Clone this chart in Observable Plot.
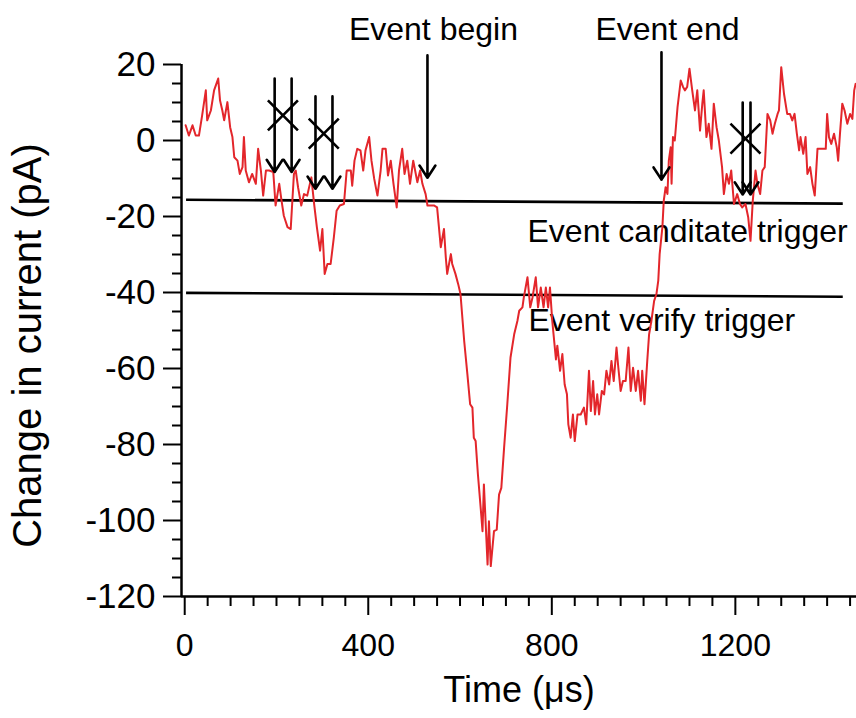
<!DOCTYPE html>
<html>
<head>
<meta charset="utf-8">
<script src="https://cdn.jsdelivr.net/npm/d3@7"></script>
<script src="https://cdn.jsdelivr.net/npm/@observablehq/plot@0.6"></script>
<style>
  html, body { margin: 0; padding: 0; background: #fff; }
  #chart svg { display: block; }
</style>
</head>
<body>
<div id="chart"></div>
<script>
// ---- Data ----
const timeUs = [
  2, 9, 17, 24, 31, 38, 46, 49, 57, 64, 73, 77, 82, 86, 93, 99, 104, 108, 115, 120,
  126, 129, 133, 140, 147, 155, 160, 166, 171, 177, 184, 193, 198, 206, 211, 216, 224, 231, 238, 242,
  247, 254, 260, 267, 276, 282, 288, 295, 300, 305, 311, 318, 325, 331, 338, 347, 353, 362, 365, 370,
  376, 383, 389, 394, 402, 407, 413, 420, 427, 431, 438, 443, 449, 455, 462, 467, 474, 479, 485, 491,
  498, 507, 513, 518, 525, 529, 543, 550, 554, 558, 565, 569, 572, 580, 583, 590, 596, 601,
  609, 616, 622, 627, 630, 634, 639, 645, 649, 652, 656, 660, 663, 667, 674, 680, 685, 690, 696, 703,
  710, 718, 725, 729, 736, 739, 747, 753, 758, 765, 770, 776, 782, 787, 792, 796, 801, 809, 812, 818,
  823, 828, 833,
  836, 841, 846, 850, 856, 863, 870, 875, 881, 885, 890, 894, 899, 903, 909, 914, 919, 925, 930, 935,
  941, 945, 950, 955, 961, 967, 972, 977, 983, 988, 994, 997, 1002, 1008, 1012, 1017, 1023, 1028, 1032, 1035,
  1041, 1044, 1048, 1052, 1055, 1059, 1061, 1064, 1068, 1074, 1081, 1086, 1090, 1095, 1100, 1106, 1112,
  1117, 1123, 1128, 1131, 1137, 1142, 1148, 1153, 1159, 1164, 1171, 1175, 1181, 1186, 1191, 1197, 1204, 1210, 1215, 1222,
  1228, 1233, 1238, 1244, 1248, 1254, 1259, 1264, 1270, 1276, 1281, 1286, 1292, 1295, 1300, 1306, 1313, 1319, 1324, 1329,
  1334, 1339, 1342, 1348, 1353, 1357, 1363, 1368, 1373, 1379, 1387, 1397, 1400, 1404, 1409, 1415, 1421, 1424, 1428, 1433,
  1438, 1444, 1450, 1455, 1459, 1462
];
const currentPA = [
  4.0, 1.3, 4.0, 1.3, 1.3, 6.6, 13.2, 5.3, 7.9, 13.2, 16.3, 10.5, 7.9, 5.3, 10.1, 3.5, 0.9, -4.4, -5.3, -8.8,
  -7.0, 0.9, -7.9, -11.0, -8.8, -11.4, -2.2, -7.9, -14.5, -7.9, -7.9, -8.3, -17.1, -11.4, -15.8, -19.8, -22.8, -23.3, -8.8, -7.9,
  -12.3, -17.1, -14.1, -14.5, -9.7, -16.7, -22.8, -29.0, -23.3, -35.1, -32.5, -32.5, -25.5, -18.5, -17.1, -16.7, -7.9, -7.9, -11.9, -5.3,
  -2.2, -2.6, -7.9, -2.6, 0.9, -5.3, -10.1, -14.5, -7.9, -2.2, -2.2, -9.2, -5.3, -11.4, -17.6, -7.9, -2.2, -8.8, -5.3, -11.4,
  -5.3, -11.0, -7.9, -11.4, -14.1, -17.1, -17.1, -17.6, -22.8, -28.1, -23.3, -30.8, -35.1, -29.9, -32.5, -35.1, -37.8, -40.4,
  -52.7, -61.5, -69.4, -70.3, -78.2, -79.1, -87.9, -96.7, -102.8, -90.5, -101.1, -111.6, -100.2, -112.0, -102.8, -102.4, -93.2, -91.4, -80.9, -69.4,
  -57.1, -51.0, -47.5, -44.8, -43.9, -41.3, -36.0, -43.9, -41.3, -36.0, -43.9, -38.7, -43.9, -38.7, -43.9, -38.7, -47.5, -57.6, -54.0, -60.6,
  -56.2, -64.2, -66.8,
  -74.7, -78.2, -72.1, -79.1, -72.1, -72.1, -70.3, -74.7, -60.6, -71.2, -63.3, -72.1, -66.8, -72.1, -65.9, -66.8, -60.6, -64.2, -58.0, -63.3,
  -54.5, -59.8, -65.9, -63.3, -63.3, -54.5, -65.9, -59.8, -65.9, -60.6, -68.5, -60.6, -69.4, -58.0, -51.0, -47.5, -42.2, -40.4, -36.9, -29.9,
  -22.8, -15.8, -12.3, -14.1, -5.3, -1.8, -11.4, 0.9, 0.0, 8.8, 15.8, 14.1, 13.2, 14.1, 18.9, 13.2, 7.9,
  13.2, 2.6, 9.7, 13.2, 0.9, 4.4, -2.2, 9.7, 3.5, 0.0, -7.0, -14.1, -8.8, -11.4, -7.9, -16.7, -14.1, -16.7, -17.6, -16.7,
  -20.2, -26.4, -15.8, -7.9, -11.4, -14.1, -7.9, -7.0, 7.0, 5.3, 1.8, 4.4, 7.0, 7.9, 19.3, 12.3, 7.0, 7.0, 5.3, 7.0,
  1.8, -2.6, 0.9, -3.5, 0.9, -8.8, -7.0, -11.4, -14.5, -2.2, -2.2, -2.2, 7.0, 0.9, -0.9, 1.8, -1.8, -5.3, 1.8, 9.7,
  7.9, 4.4, 7.0, 5.7, 13.2, 14.9
];

// Axis ticks
const xDomain = [-7, 1464];
const yDomain = [-120, 20];
const xMajorTicks = [0, 400, 800, 1200];
const xMinorTicks = [50, 100, 150, 200, 250, 300, 350, 450, 500, 550, 600, 650, 700, 750,
  850, 900, 950, 1000, 1050, 1100, 1150, 1250, 1300, 1350, 1400, 1450];
const yMajorTicks = [-120, -100, -80, -60, -40, -20, 0, 20];
const yMinorTicks = [-115, -110, -105, -95, -90, -85, -75, -70, -65, -55, -50, -45,
  -35, -30, -25, -15, -10, -5, 5, 10, 15];

// Trigger levels (threshold lines)
const triggerNames = ["Event canditate trigger", "Event verify trigger"];
const triggerStartTime = [3, 3];
const triggerEndTime = [1434, 1434];
const triggerStartLevel = [-15.6, -40.1];
const triggerEndLevel = [-16.6, -41.1];
const triggerLabelTime = [747, 749];
const triggerLabelLevel = [-24.1, -47.5];

// Event begin / end arrows
const eventNames = ["Event begin", "Event end"];
const eventTime = [529, 1039];
const eventArrowTop = [22.4, 23.2];
const eventArrowTip = [-9.8, -10.3];
const eventLabelLevel = [29.1, 29.1];
const eventLabelTime = [542, 1052];

// Rejected candidate arrows (crossed out)
const rejectedArrowTime = [196, 233, 285, 322, 1216, 1233];
const rejectedArrowTop = [16.3, 16.3, 11.6, 11.6, 10.0, 10.0];
const rejectedArrowTip = [-8.3, -8.3, -12.7, -12.7, -14.2, -14.2];
const crossTime = [214, 303, 1222];
const crossLevel = [6.6, 1.8, 0.5];

// ---- Tables built from the arrays ----
const trace = timeUs.map((t, i) => ({t, v: currentPA[i]}));
const triggers = triggerNames.map((name, i) => ({
  name, x1: triggerStartTime[i], x2: triggerEndTime[i],
  y1: triggerStartLevel[i], y2: triggerEndLevel[i],
  lx: triggerLabelTime[i], ly: triggerLabelLevel[i]
}));
const events = eventNames.map((name, i) => ({
  name, t: eventTime[i], top: eventArrowTop[i], tip: eventArrowTip[i],
  lx: eventLabelTime[i], ly: eventLabelLevel[i]
}));
const arrows = [
  ...events.map(d => ({t: d.t, top: d.top, tip: d.tip})),
  ...rejectedArrowTime.map((t, i) => ({t, top: rejectedArrowTop[i], tip: rejectedArrowTip[i]}))
];
const crosses = crossTime.map((t, i) => ({t, v: crossLevel[i]}));

const font = "'Liberation Sans', Arial, Helvetica, sans-serif";

const chart = Plot.plot({
  width: 856,
  height: 718,
  marginLeft: 181,
  marginRight: 0,
  marginTop: 64,
  marginBottom: 122,
  x: {domain: xDomain},
  y: {domain: yDomain},
  style: {fontFamily: font, fontSize: "32px", color: "black", background: "white", overflow: "visible"},
  marks: [
    // axes
    Plot.axisY(yMajorTicks, {tickSize: 18, tickPadding: 8, fontSize: 35, strokeWidth: 2,
      tickFormat: d => String(d), label: null}),
    Plot.axisY(yMinorTicks, {tickSize: 9, strokeWidth: 2, tickFormat: () => "", label: null}),
    Plot.axisX(xMajorTicks, {tickSize: 19, tickPadding: 18, fontSize: 32, strokeWidth: 2,
      tickFormat: d => String(d), label: null}),
    Plot.axisX(xMinorTicks, {tickSize: 10, strokeWidth: 2, tickFormat: () => "", label: null}),
    Plot.ruleX([xDomain[0]], {strokeWidth: 2.5}),
    Plot.ruleY([yDomain[0]], {strokeWidth: 2.5}),
    // axis titles
    Plot.text(["Change in current (pA)"], {frameAnchor: "left", textAnchor: "middle", dx: -153, dy: 15, rotate: -90,
      fontSize: 40, fill: "black"}),
    Plot.text(["Time (\u03bcs)"], {frameAnchor: "bottom", textAnchor: "middle", dy: 105, fontSize: 36, fill: "black"}),
    // trigger labels & lines
    Plot.text(triggers, {x: "lx", y: "ly", text: "name", textAnchor: "start", fontSize: 32, fill: "black"}),
    Plot.link(triggers, {x1: "x1", y1: "y1", x2: "x2", y2: "y2", stroke: "black", strokeWidth: 2.6}),
    // signal trace
    Plot.line(trace, {x: "t", y: "v", stroke: "#e3262b", strokeWidth: 2}),
    // event labels
    Plot.text(events, {x: "lx", y: "ly", text: "name", textAnchor: "middle", fontSize: 32, fill: "black"}),
    // arrows
    Plot.arrow(arrows, {x1: "t", x2: "t", y1: "top", y2: "tip", stroke: "black",
      strokeWidth: 2.6, headLength: 8.4, headAngle: 66}),
    // crosses over rejected candidates
    Plot.dot(crosses, {x: "t", y: "v", symbol: "times", r: 13.7, stroke: "black", strokeWidth: 2.6})
  ]
});

document.getElementById("chart").appendChild(chart);
</script>
</body>
</html>
